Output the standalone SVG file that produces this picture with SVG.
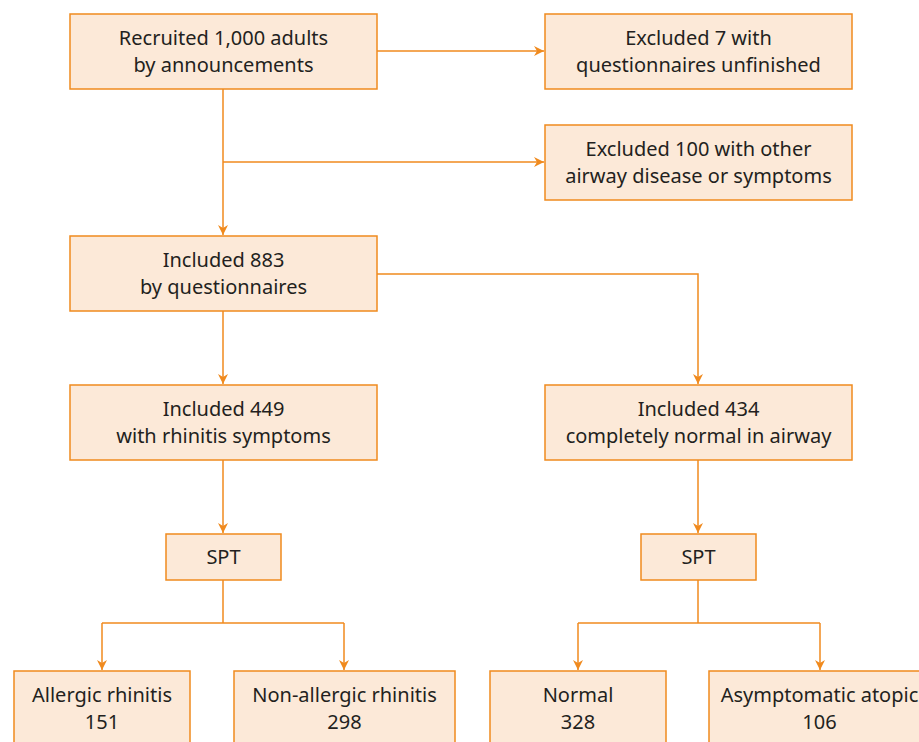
<svg xmlns="http://www.w3.org/2000/svg" width="919" height="742" viewBox="0 0 919 742">
<defs>
<marker id="arr" viewBox="0 0 10 10" refX="10" refY="5" markerWidth="10" markerHeight="10" markerUnits="userSpaceOnUse" orient="auto">
<path d="M0,0 L10,5 L0,10 L3,5 Z" fill="#F08A1E"/>
</marker>
</defs>
<style>
.box{fill:#FCE9D8;stroke:#F08A1E;stroke-width:1.5}
.t{font-family:"Noto Sans","Open Sans",sans-serif;font-size:20px;fill:#231F20;text-anchor:middle}
.c{fill:none;stroke:#F08A1E;stroke-width:1.5}
</style>
<rect width="919" height="742" fill="#FFFFFF"/>
<g id="connectors">
<path class="c" d="M377,51 H544" marker-end="url(#arr)"/>
<path class="c" d="M223,89 V235" marker-end="url(#arr)"/>
<path class="c" d="M223,162 H544" marker-end="url(#arr)"/>
<path class="c" d="M377,274 H698 V384" marker-end="url(#arr)"/>
<path class="c" d="M223,311 V384" marker-end="url(#arr)"/>
<path class="c" d="M223,460 V533" marker-end="url(#arr)"/>
<path class="c" d="M698,460 V533" marker-end="url(#arr)"/>
<path class="c" d="M223,580 V623"/>
<path class="c" d="M102,623 H344"/>
<path class="c" d="M102,623 V670" marker-end="url(#arr)"/>
<path class="c" d="M344,623 V670" marker-end="url(#arr)"/>
<path class="c" d="M698,580 V623"/>
<path class="c" d="M578,623 H820"/>
<path class="c" d="M578,623 V670" marker-end="url(#arr)"/>
<path class="c" d="M820,623 V670" marker-end="url(#arr)"/>
</g>
<g id="recruited">
<rect class="box" x="70" y="14" width="307" height="75"/>
<text class="t" x="223.5" y="45">Recruited 1,000 adults</text>
<text class="t" x="223.5" y="72">by announcements</text>
</g>
<g id="excluded7">
<rect class="box" x="545" y="14" width="307" height="75"/>
<text class="t" x="698.5" y="45">Excluded 7 with</text>
<text class="t" x="698.5" y="72">questionnaires unfinished</text>
</g>
<g id="excluded100">
<rect class="box" x="545" y="125" width="307" height="75"/>
<text class="t" x="698.5" y="156">Excluded 100 with other</text>
<text class="t" x="698.5" y="183">airway disease or symptoms</text>
</g>
<g id="included883">
<rect class="box" x="70" y="236" width="307" height="75"/>
<text class="t" x="223.5" y="267">Included 883</text>
<text class="t" x="223.5" y="294">by questionnaires</text>
</g>
<g id="included449">
<rect class="box" x="70" y="385" width="307" height="75"/>
<text class="t" x="223.5" y="416">Included 449</text>
<text class="t" x="223.5" y="443">with rhinitis symptoms</text>
</g>
<g id="included434">
<rect class="box" x="545" y="385" width="307" height="75"/>
<text class="t" x="698.5" y="416">Included 434</text>
<text class="t" x="698.5" y="443">completely normal in airway</text>
</g>
<g id="spt-left">
<rect class="box" x="166" y="534" width="115" height="46"/>
<text class="t" x="223.5" y="564">SPT</text>
</g>
<g id="spt-right">
<rect class="box" x="641" y="534" width="115" height="46"/>
<text class="t" x="698.5" y="564">SPT</text>
</g>
<g id="allergic">
<rect class="box" x="14" y="671" width="176" height="90"/>
<text class="t" x="102" y="702">Allergic rhinitis</text>
<text class="t" x="102" y="729">151</text>
</g>
<g id="nonallergic">
<rect class="box" x="234" y="671" width="221" height="90"/>
<text class="t" x="344.5" y="702">Non-allergic rhinitis</text>
<text class="t" x="344.5" y="729">298</text>
</g>
<g id="normal">
<rect class="box" x="490" y="671" width="176" height="90"/>
<text class="t" x="578" y="702">Normal</text>
<text class="t" x="578" y="729">328</text>
</g>
<g id="asymptomatic">
<rect class="box" x="709" y="671" width="221" height="90"/>
<text class="t" x="819.5" y="702">Asymptomatic atopic</text>
<text class="t" x="819.5" y="729">106</text>
</g>
</svg>
